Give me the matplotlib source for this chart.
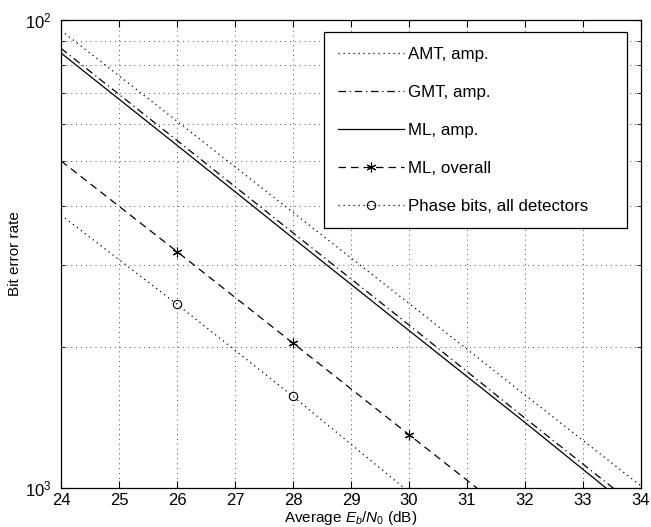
import matplotlib.pyplot as plt
from matplotlib.ticker import FixedLocator, FixedFormatter, NullFormatter

plt.rcParams['font.family'] = ['Liberation Sans', 'DejaVu Sans']
plt.rcParams['mathtext.fontset'] = 'custom'
plt.rcParams['mathtext.rm'] = 'Liberation Sans'
plt.rcParams['mathtext.it'] = 'Liberation Sans:italic'

# Eb/N0 (dB) and bit error rates
snr = [24, 26, 28, 30, 32, 34]
ber_amt = [9.5e-3, 6.08e-3, 3.88e-3, 2.48e-3, 1.58e-3, 1.01e-3]
ber_gmt = [8.7e-3, 5.53e-3, 3.51e-3, 2.23e-3, 1.41e-3, 8.97e-4]
ber_ml = [8.5e-3, 5.4e-3, 3.42e-3, 2.17e-3, 1.38e-3, 8.7e-4]

snr_overall = [24, 26, 28, 30, 32]
ber_ml_overall = [5.0e-3, 3.2e-3, 2.04e-3, 1.30e-3, 8.3e-4]

snr_phase = [24, 26, 28, 30, 32]
ber_phase = [3.83e-3, 2.47e-3, 1.57e-3, 0.98e-3, 6.3e-4]

ytick_vals = [1e-3, 1e-2]
ytick_labels = ['$10^{3}$', '$10^{2}$']

fig = plt.figure(figsize=(6.51, 5.27), dpi=100)
ax = fig.add_axes([0.0937, 0.074, 0.891, 0.888])

lw = 0.9
ax.semilogy(snr, ber_amt, color='k', linestyle=(0, (1, 3)), linewidth=lw, label='AMT, amp.')
ax.semilogy(snr, ber_gmt, color='k', linestyle=(0, (6, 3, 1, 3)), linewidth=lw, label='GMT, amp.')
ax.semilogy(snr, ber_ml, color='k', linestyle='-', linewidth=lw, label='ML, amp.')
ax.semilogy(snr_overall, ber_ml_overall, color='k', linestyle=(0, (6, 4)), linewidth=lw,
            marker=(6, 2, 0), markersize=7, markeredgewidth=0.8, markevery=[1, 2, 3],
            label='ML, overall')
ax.semilogy(snr_phase, ber_phase, color='k', linestyle=(0, (1, 3)), linewidth=lw,
            marker='o', markersize=6, markerfacecolor='none', markeredgewidth=0.8,
            markevery=[1, 2], label='Phase bits, all detectors')

ax.set_xlim(24, 34)
ax.set_ylim(1e-3, 1e-2)
ax.set_xticks(range(24, 35))
ax.yaxis.set_major_locator(FixedLocator(ytick_vals))
ax.yaxis.set_major_formatter(FixedFormatter(ytick_labels))
ax.yaxis.set_minor_locator(FixedLocator([k * 1e-3 for k in range(2, 10)]))
ax.yaxis.set_minor_formatter(NullFormatter())

ax.tick_params(which='both', direction='in', top=True, right=True, labelsize=12)
ax.tick_params(which='major', length=5)
ax.tick_params(which='minor', length=3)
ax.tick_params(axis='y', which='major', pad=7)

ax.grid(True, which='major', axis='x', color='0.3', linestyle=(0, (1, 4)), linewidth=0.7)
ax.grid(True, which='minor', axis='y', color='0.3', linestyle=(0, (1, 4)), linewidth=0.7)

ax.set_xlabel('Average $E_b/N_0$ (dB)', fontsize=11, labelpad=1)
ax.set_ylabel('Bit error rate', fontsize=11)
ax.yaxis.set_label_coords(-0.068, 0.5)

# legend box stretched to the reference's width
leg = ax.legend(loc='upper left', bbox_to_anchor=(0.453, 0.0, 0.523, 0.974), mode='expand',
                fontsize=12.2, handlelength=3.9, handletextpad=0.25, labelspacing=1.36,
                borderpad=0.85, borderaxespad=0, fancybox=False, framealpha=1, edgecolor='k')
leg.get_frame().set_linewidth(0.9)

for s in ax.spines.values():
    s.set_linewidth(0.9)

fig.savefig('out.png', dpi=100)
